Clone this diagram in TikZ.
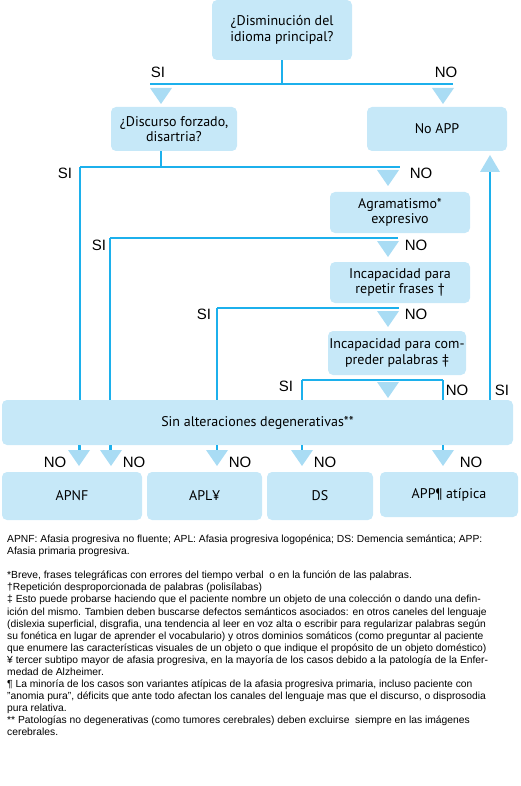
\documentclass[tikz,border=0pt]{standalone}
\usepackage{fontspec}
\setmainfont{Liberation Sans}
\newfontfamily\boxfont{PT Sans}
\definecolor{lineblue}{HTML}{1CB0EC}
\definecolor{boxblue}{HTML}{C6E8F8}
\definecolor{triblue}{HTML}{A9DCF4}
\tikzset{
  bx/.style={fill=boxblue, rounded corners=5pt, align=center, inner sep=0pt,
    font=\boxfont\fontsize{14}{15.5}\selectfont},
  ln/.style={draw=lineblue, line width=1.8pt},
  lbl/.style={font=\fontsize{15}{15}\selectfont, inner sep=0pt},
  tri/.style={fill=triblue},
}
\newcommand\dtri[2]{\fill[tri] (#1-11,#2) -- (#1+11,#2) -- (#1,#2+16) -- cycle;}
\begin{document}
\begin{tikzpicture}[x=1pt,y=-1pt]
\useasboundingbox (0,0) rectangle (520,786);
% junction coordinates
\coordinate (j1) at (282,84);
\coordinate (j1l) at (150,84);
\coordinate (j1r) at (453,84);
\coordinate (j2) at (161,167);
\coordinate (j2l) at (80,167);
\coordinate (j2r) at (400,167);
\coordinate (j3l) at (110,238);
\coordinate (j3r) at (398,238);
\coordinate (j4l) at (217,308);
\coordinate (j4r) at (399,308);
\coordinate (j5l) at (302,380);
\coordinate (j5r) at (443,380);
\coordinate (e1) at (80,450);
\coordinate (e2) at (110,450);
\coordinate (e3) at (217,450);
\coordinate (e4) at (302,450);
\coordinate (e5) at (443,450);
\coordinate (up) at (490,172);
\coordinate (upb) at (490,400);
% lines behind the big box
\draw[ln] (j2l) -- (e1);
\draw[ln] (j3l) -- (e2);
\draw[ln] (j4l) -- (e3);
\draw[ln] (j5l) -- (e4);
\draw[ln] (j5r) -- (e5);
\draw[ln] (upb) -- (up);
% boxes
\node[bx, minimum width=140pt, minimum height=60pt] (q1) at (282,30) {¿Disminución del\\idioma principal?};
\node[bx, minimum width=126pt, minimum height=44pt] (q2) at (174,129) {¿Discurso forzado,\\disartria?};
\node[bx, minimum width=140pt, minimum height=44pt] (noapp) at (437,129) {No APP};
\node[bx, minimum width=140pt, minimum height=41pt] (agr) at (400,212.5) {Agramatismo*\\expresivo};
\node[bx, minimum width=140pt, minimum height=41pt] (rep) at (400,282.5) {Incapacidad para\\repetir frases †};
\node[bx, minimum width=138pt, minimum height=44pt] (comp) at (397,353) {Incapacidad para com-\\preder palabras ‡};
\node[bx, minimum width=511pt, minimum height=45pt] (sin) at (257.5,422.5) {Sin alteraciones degenerativas**};
\node[bx, minimum width=140pt, minimum height=48pt] (apnf) at (72,496) {APNF};
\node[bx, minimum width=115pt, minimum height=48pt] (apl) at (204.5,496) {APL¥};
\node[bx, minimum width=106pt, minimum height=48pt] (ds) at (320,496) {DS};
\node[bx, minimum width=138pt, minimum height=45pt] (appat) at (449,494.5) {APP¶ atípica};
% connectors
\draw[ln] (q1.south) -- (j1);
\draw[ln] (j1l) -- (j1r);
\draw[ln] (q2.south -| j2) -- (j2);
\draw[ln] (j2l) -- (j2r);
\draw[ln] (j3l) -- (j3r);
\draw[ln] (j4l) -- (j4r);
\draw[ln] (j5l) -- (j5r);
% ticks below big box
\foreach \x in {79,111,217,302,443} \draw[draw=lineblue, line width=1.5pt] (\x,445) -- (\x,450);
% triangles
\dtri{161}{88}
\dtri{443}{88}
\dtri{388}{170}
\dtri{388}{241}
\dtri{388}{311}
\dtri{388}{382}
\dtri{79}{450}
\dtri{111}{450}
\dtri{217}{450}
\dtri{302}{450}
\dtri{443}{450}
\fill[tri] (480,172) -- (500,172) -- (490,155) -- cycle;
% labels
\node[lbl] (s1) at (158,72) {SI};
\node[lbl] (n1) at (446,72) {NO};
\node[lbl] (s2) at (65,173) {SI};
\node[lbl] (n2) at (421,173) {NO};
\node[lbl] (s3) at (99,245) {SI};
\node[lbl] (n3) at (416,245) {NO};
\node[lbl] (s4) at (204,314) {SI};
\node[lbl] (n4) at (416,314) {NO};
\node[lbl] (s5) at (286,386) {SI};
\node[lbl] (n5) at (457,390) {NO};
\node[lbl] (s6) at (502,390) {SI};
\node[lbl] (b1) at (55,462) {NO};
\node[lbl] (b2) at (134,462) {NO};
\node[lbl] (b3) at (240,462) {NO};
\node[lbl] (b4) at (325,462) {NO};
\node[lbl] (b5) at (471,462) {NO};
% footnotes
\node[anchor=north west, inner sep=0pt, align=left, font=\fontsize{10.3}{12.05}\selectfont] (notes) at (7,535) {%
APNF: Afasia progresiva no fluente; APL: Afasia progresiva logopénica; DS: Demencia semántica; APP:\\
Afasia primaria progresiva.\\[12pt]
*Breve, frases telegráficas con errores del tiempo verbal\ \ o en la función de las palabras.\\
†Repetición desproporcionada de palabras (polisílabas)\\
‡ Esto puede probarse haciendo que el paciente nombre un objeto de una colección o dando una defin-\\
ición del mismo. Tambien deben buscarse defectos semánticos asociados: en otros caneles del lenguaje\\
(dislexia superficial, disgrafia, una tendencia al leer en voz alta o escribir para regularizar palabras según\\
su fonética en lugar de aprender el vocabulario) y otros dominios somáticos (como preguntar al paciente\\
que enumere las características visuales de un objeto o que indique el propósito de un objeto doméstico)\\
¥ tercer subtipo mayor de afasia progresiva, en la mayoría de los casos debido a la patología de la Enfer-\\
medad de Alzheimer.\\
¶ La minoría de los casos son variantes atípicas de la afasia progresiva primaria, incluso paciente con\\
"anomia pura", déficits que ante todo afectan los canales del lenguaje mas que el discurso, o disprosodia\\
pura relativa.\\
** Patologías no degenerativas (como tumores cerebrales) deben excluirse\ \ siempre en las imágenes\\
cerebrales.};
\end{tikzpicture}
\end{document}
